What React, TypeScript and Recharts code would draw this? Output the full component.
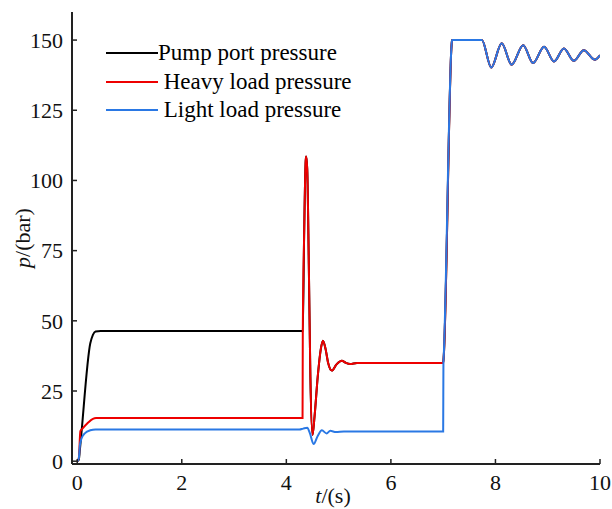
import { LineChart, Line, XAxis, YAxis, Legend, Label } from 'recharts'

const FONT = "'Liberation Serif', 'Times New Roman', serif"

// time (s) / pressure (bar) samples
const pumpStartT = [0, 0.03, 0.05, 0.25, 0.3, 0.35, 0.45, 4.31]
const pumpStartP = [0, 0.5, 4, 42, 45, 46.2, 46.4, 46.4]

const heavyStartT = [0, 0.03, 0.06, 0.1, 0.2, 0.3, 0.36, 4.31]
const heavyStartP = [0, 1, 10.7, 11.6, 13.6, 15.1, 15.4, 15.4]

// load change transient, shared by pump and heavy load
const surgeT = [4.315, 4.34, 4.37, 4.38, 4.4, 4.43, 4.46, 4.5, 4.54, 4.6, 4.66, 4.7, 4.75, 4.8, 4.87, 4.96, 5.06, 5.14, 5.22, 5.35, 7.0]
const surgeP = [46, 80, 107, 108.5, 104, 70, 30, 9.3, 16, 30, 40, 42.9, 40, 35, 32.3, 34.5, 35.8, 35, 34.6, 35, 35]

const lightStartT = [0, 0.03, 0.05, 0.08, 0.15, 0.25, 0.35, 4.25, 4.32, 4.4, 4.45, 4.52, 4.6, 4.68, 4.77, 4.84, 4.95, 5.1, 7.0, 7.005]
const lightStartP = [0, 1, 5.5, 8, 10, 11, 11.3, 11.3, 11.6, 11.9, 10, 6.1, 9, 11, 9.9, 10.8, 10.4, 10.6, 10.6, 35]

// relief valve section, all three curves coincide
const highT = [7.01, 7.16, 7.17, 7.74, 7.92, 8.12, 8.31, 8.53, 8.72, 8.93, 9.12, 9.31, 9.5, 9.69, 9.9, 10]
const highP = [37, 148, 150, 150, 140.2, 148.9, 141.2, 148.2, 141.8, 147.6, 142.4, 147, 142.6, 146.4, 143, 144.6]

const xTicks = [0, 2, 4, 6, 8, 10]
const yTicks = [0, 25, 50, 75, 100, 125, 150]
const seriesNames = ['Pump port pressure', ' Heavy load pressure', ' Light load pressure']

const toPoints = (ts: number[], ps: number[]) => ts.map((t, i) => ({ t, p: ps[i] }))

const pumpData = [...toPoints(pumpStartT, pumpStartP), ...toPoints(surgeT, surgeP), ...toPoints(highT, highP)]
const heavyData = [...toPoints(heavyStartT, heavyStartP), ...toPoints(surgeT, surgeP), ...toPoints(highT, highP)]
const lightData = [...toPoints(lightStartT, lightStartP), ...toPoints(highT, highP)]

const renderLegend = (props: any) => {
    const items = [...(props.payload || [])].sort(
        (a: any, b: any) => seriesNames.indexOf(a.value) - seriesNames.indexOf(b.value)
    )
    return (
        <div>
            {items.map((e: any, i: number) => (
                <div key={i} style={{ display: 'flex', alignItems: 'center', height: 28.5 }}>
                    <svg width={52} height={4} style={{ display: 'block' }}>
                        <line x1={0} y1={2} x2={52} y2={2} stroke={e.color} strokeWidth={2} />
                    </svg>
                    <span style={{ fontFamily: FONT, fontSize: 23, color: '#000', whiteSpace: 'pre', lineHeight: '28px' }}>
                        {e.value}
                    </span>
                </div>
            ))}
        </div>
    )
}

export default function App() {
    const tickStyle = { fill: '#111', fontSize: 22, fontFamily: FONT }
    return (
        <div style={{ position: 'absolute', left: 0, top: 0, background: '#fff' }}>
            <LineChart width={612} height={509} margin={{ top: 12, right: 12, left: 0, bottom: 15 }}>
                <XAxis
                    dataKey="t"
                    type="number"
                    domain={[-0.1, 10]}
                    ticks={xTicks}
                    allowDataOverflow
                    height={30}
                    tickSize={-5}
                    tickMargin={15}
                    tick={tickStyle}
                    axisLine={{ stroke: '#222', strokeWidth: 2 }}
                    tickLine={{ stroke: '#222', strokeWidth: 1.5 }}
                >
                    <Label
                        content={() => (
                            <text x={333} y={503} textAnchor="middle" fontFamily={FONT} fontSize={22} fill="#111">
                                <tspan fontStyle="italic">t</tspan>/(s)
                            </text>
                        )}
                    />
                </XAxis>
                <YAxis
                    type="number"
                    domain={[-1, 160]}
                    ticks={yTicks}
                    allowDataOverflow
                    width={72}
                    tickSize={-5}
                    tickMargin={14}
                    tick={tickStyle}
                    axisLine={{ stroke: '#222', strokeWidth: 2 }}
                    tickLine={{ stroke: '#222', strokeWidth: 1.5 }}
                >
                    <Label
                        content={() => (
                            <text
                                x={30}
                                y={238}
                                transform="rotate(-90 30 238)"
                                textAnchor="middle"
                                fontFamily={FONT}
                                fontSize={22}
                                fill="#111"
                            >
                                <tspan fontStyle="italic">p</tspan>/(bar)
                            </text>
                        )}
                    />
                </YAxis>
                <Legend
                    layout="vertical"
                    align="center"
                    verticalAlign="middle"
                    content={renderLegend}
                    wrapperStyle={{ position: 'absolute', left: 106, top: 39, width: 'auto' }}
                />
                <Line data={pumpData} dataKey="p" name={seriesNames[0]} stroke="#000000" strokeWidth={2} type="monotone" dot={false} isAnimationActive={false} />
                <Line data={heavyData} dataKey="p" name={seriesNames[1]} stroke="#ee0000" strokeWidth={2} type="monotone" dot={false} isAnimationActive={false} />
                <Line data={lightData} dataKey="p" name={seriesNames[2]} stroke="#2a78e4" strokeWidth={2} type="monotone" dot={false} isAnimationActive={false} />
            </LineChart>
        </div>
    )
}
